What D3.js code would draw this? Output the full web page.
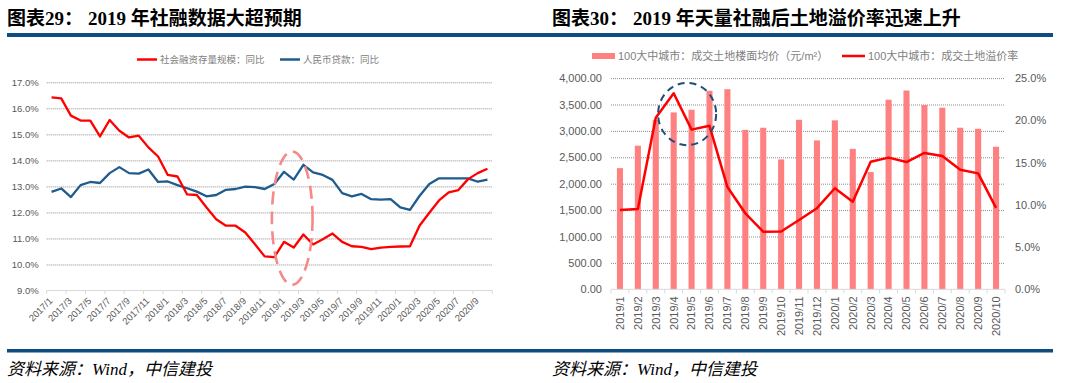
<!DOCTYPE html>
<html><head><meta charset="utf-8">
<script src="https://cdn.jsdelivr.net/npm/d3@7"></script>
<style>body{margin:0;background:#fff;} svg{display:block;}</style>
</head><body>
<svg id="c" width="1076" height="383"></svg>
<script>
// ---------- DATA ----------
const months1 = ["2017/1","2017/2","2017/3","2017/4","2017/5","2017/6","2017/7","2017/8","2017/9","2017/10","2017/11","2017/12",
  "2018/1","2018/2","2018/3","2018/4","2018/5","2018/6","2018/7","2018/8","2018/9","2018/10","2018/11","2018/12",
  "2019/1","2019/2","2019/3","2019/4","2019/5","2019/6","2019/7","2019/8","2019/9","2019/10","2019/11","2019/12",
  "2020/1","2020/2","2020/3","2020/4","2020/5","2020/6","2020/7","2020/8","2020/9","2020/10"];
const tsfYoY = [16.42,16.38,15.72,15.53,15.53,14.92,15.55,15.14,14.88,14.95,14.50,14.15,
  13.44,13.38,12.69,12.67,12.19,11.74,11.49,11.49,11.23,10.78,10.31,10.28,
  10.87,10.65,11.15,10.77,10.97,11.19,10.87,10.70,10.68,10.59,10.65,10.68,
  10.69,10.70,11.50,11.99,12.46,12.77,12.86,13.28,13.51,13.68];
const loanYoY = [12.79,12.92,12.59,13.05,13.17,13.13,13.51,13.74,13.51,13.49,13.65,13.17,
  13.19,13.05,12.93,12.80,12.62,12.67,12.87,12.90,12.99,12.97,12.90,13.09,
  13.56,13.26,13.83,13.54,13.44,13.25,12.74,12.62,12.71,12.51,12.49,12.51,
  12.19,12.10,12.64,13.09,13.31,13.31,13.31,13.31,13.18,13.26];
const leftTicks = [9,10,11,12,13,14,15,16,17];
const leftSeries = ["社会融资存量规模：同比","人民币贷款：同比"];

const months2 = ["2019/1","2019/2","2019/3","2019/4","2019/5","2019/6","2019/7","2019/8","2019/9","2019/10","2019/11","2019/12",
  "2020/1","2020/2","2020/3","2020/4","2020/5","2020/6","2020/7","2020/8","2020/9","2020/10"];
const landPrice = [2295,2720,3210,3350,3400,3760,3790,3020,3060,2460,3210,2820,
  3200,2660,2220,3590,3765,3490,3440,3060,3040,2700];
const premiumRate = [9.4,9.5,20.3,23.2,18.9,19.35,12.1,9.0,6.82,6.85,8.2,9.6,
  11.96,10.36,15.1,15.59,15.06,16.14,15.77,14.15,13.72,9.63];
const priceTicks = [0,500,1000,1500,2000,2500,3000,3500,4000];
const rateTicks = [0,5,10,15,20,25];
const rightSeries = ["100大中城市：成交土地楼面均价（元/m²）","100大中城市：成交土地溢价率"];

// ---------- STYLE ----------
const SANS = '"Liberation Sans", Arial, "Noto Sans CJK SC", sans-serif';
const TITLE = '"Liberation Serif", "Times New Roman", "Noto Sans CJK SC", serif';
const RED = "#ff0000", BLUE = "#1f5b8c", BAR = "#ff8080", RULE = "#0f4c81", TXT = "#595959";
const svg = d3.select("#c");

// ---------- HEADERS / FOOTERS ----------
svg.append("rect").attr("x",7).attr("y",33).attr("width",1046).attr("height",4).attr("fill",RULE);
svg.append("rect").attr("x",7).attr("y",349).attr("width",1046).attr("height",3.5).attr("fill",RULE);
function header(x, lab, x2, rest){
  svg.append("text").attr("x",x).attr("y",25).attr("font-family",TITLE).attr("font-weight","bold")
    .attr("font-size",19).attr("fill","#000").text(lab);
  svg.append("text").attr("x",x2).attr("y",25).attr("font-family",TITLE).attr("font-weight","bold")
    .attr("font-size",19).attr("fill","#000").text(rest);
  svg.append("text").attr("x",x).attr("y",375).attr("font-family",TITLE).attr("font-style","italic")
    .attr("font-size",17).attr("fill","#000").text("资料来源：Wind，中信建投");
}
header(7,"图表29：",88,"2019 年社融数据大超预期");
header(552,"图表30：",633,"2019 年天量社融后土地溢价率迅速上升");

// ---------- LEFT CHART ----------
(function(){
  const x0 = 46.7, x1 = 492.3;
  const x = d3.scaleBand().domain(months1).range([x0,x1]);
  const y = d3.scaleLinear().domain([9,17]).range([290.5,82.3]);
  const bw = x.bandwidth();
  const g = svg.append("g");

  // grid
  g.append("g").attr("transform",`translate(${x0},0)`)
    .call(d3.axisLeft(y).tickValues(leftTicks.filter(d=>d>9)).tickSize(-(x1-x0)).tickFormat(""))
    .call(a=>a.select(".domain").remove())
    .call(a=>a.selectAll("line").attr("stroke","#8c8c8c").attr("stroke-dasharray","1,1"));
  // y labels
  g.append("g").attr("transform",`translate(${x0},0)`)
    .call(d3.axisLeft(y).tickValues(leftTicks).tickSize(0).tickPadding(8).tickFormat(d=>d.toFixed(1)+"%"))
    .call(a=>a.select(".domain").remove())
    .call(a=>a.selectAll("text").attr("font-family",SANS).attr("font-size",9.5).attr("fill",TXT));
  // x axis line + boundary ticks
  g.append("line").attr("x1",x0).attr("x2",x1).attr("y1",y(9)).attr("y2",y(9)).attr("stroke","#d9d9d9");
  const bounds = months1.filter((d,i)=>i%2===0).map(d=>x(d)).concat([x1]);
  g.selectAll("line.tk").data(bounds).join("line").attr("class","tk")
    .attr("x1",d=>d).attr("x2",d=>d).attr("y1",y(9)).attr("y2",y(9)+3.5).attr("stroke","#d9d9d9");
  // x labels
  g.append("g").attr("transform",`translate(0,${y(9)})`)
    .call(d3.axisBottom(x).tickValues(months1.filter((d,i)=>i%2===0)).tickSize(0))
    .call(a=>a.select(".domain").remove())
    .call(a=>a.selectAll("text").attr("font-family",SANS).attr("font-size",9.5).attr("fill",TXT)
      .attr("text-anchor","end").attr("x",-1).attr("y",0).attr("dy","0.35em")
      .attr("transform","translate(0,8) rotate(-45)"));

  // lines
  const line = d3.line().x((d,i)=>x(months1[i])+bw/2).y(d=>y(d));
  g.append("path").datum(loanYoY).attr("d",line).attr("fill","none").attr("stroke",BLUE).attr("stroke-width",2.3).attr("stroke-linejoin","round");
  g.append("path").datum(tsfYoY).attr("d",line).attr("fill","none").attr("stroke",RED).attr("stroke-width",2.3).attr("stroke-linejoin","round");

  // annotation ellipse
  const ec = x("2019/2")+bw/2 - 1.5;
  g.append("ellipse").attr("cx",ec).attr("cy",y(11.78)).attr("rx",bw*2.1)
    .attr("ry",y(9.22)-y(11.78)).attr("fill","none").attr("stroke","#f48a8a").attr("stroke-width",2.6)
    .attr("stroke-dasharray","13,7");

  // legend
  const lg = g.append("g").attr("font-family",SANS).attr("font-size",9.5).attr("fill","#808080");
  [[137,RED],[280,BLUE]].forEach((p,i)=>{
    lg.append("line").attr("x1",p[0]).attr("x2",p[0]+20).attr("y1",59.5).attr("y2",59.5).attr("stroke",p[1]).attr("stroke-width",2.5);
    lg.append("text").attr("x",p[0]+23).attr("y",59.5).attr("dy","0.35em").text(leftSeries[i]);
  });
})();

// ---------- RIGHT CHART ----------
(function(){
  const x0 = 611, x1 = 1005;
  const x = d3.scaleBand().domain(months2).range([x0,x1]);
  const xb = d3.scaleBand().domain(months2).range([x0,x1]).paddingInner(0.66).paddingOuter(0.33);
  const yl = d3.scaleLinear().domain([0,4000]).range([289.3,78.1]);
  const yr = d3.scaleLinear().domain([0,25]).range([289.3,78.1]);
  const bw = x.bandwidth();
  const g = svg.append("g");

  g.append("g").attr("transform",`translate(${x0},0)`)
    .call(d3.axisLeft(yl).tickValues(priceTicks.filter(d=>d>0)).tickSize(-(x1-x0)).tickFormat(""))
    .call(a=>a.select(".domain").remove())
    .call(a=>a.selectAll("line").attr("stroke","#8c8c8c").attr("stroke-dasharray","1,1"));
  g.append("g").attr("transform",`translate(${x0},0)`)
    .call(d3.axisLeft(yl).tickValues(priceTicks).tickSize(0).tickPadding(9).tickFormat(d3.format(",.2f")))
    .call(a=>a.select(".domain").remove())
    .call(a=>a.selectAll("text").attr("font-family",SANS).attr("font-size",11).attr("fill",TXT));
  g.append("g").attr("transform",`translate(${x1},0)`)
    .call(d3.axisRight(yr).tickValues(rateTicks).tickSize(0).tickPadding(10).tickFormat(d=>d.toFixed(1)+"%"))
    .call(a=>a.select(".domain").remove())
    .call(a=>a.selectAll("text").attr("font-family",SANS).attr("font-size",11).attr("fill",TXT));

  // bars
  g.selectAll("rect.bar").data(landPrice).join("rect").attr("class","bar")
    .attr("x",(d,i)=>xb(months2[i])).attr("width",xb.bandwidth())
    .attr("y",d=>yl(d)).attr("height",d=>yl(0)-yl(d)).attr("fill",BAR);

  // x axis
  g.append("line").attr("x1",x0).attr("x2",x1).attr("y1",yl(0)).attr("y2",yl(0)).attr("stroke","#d9d9d9");
  const bounds = months2.map(d=>x(d)).concat([x1]);
  g.selectAll("line.tk").data(bounds).join("line").attr("class","tk")
    .attr("x1",d=>d).attr("x2",d=>d).attr("y1",yl(0)).attr("y2",yl(0)+4).attr("stroke","#d9d9d9");
  g.append("g").attr("transform",`translate(0,${yl(0)})`)
    .call(d3.axisBottom(x).tickSize(0))
    .call(a=>a.select(".domain").remove())
    .call(a=>a.selectAll("text").attr("font-family",SANS).attr("font-size",11).attr("fill",TXT)
      .attr("text-anchor","end").attr("x",0).attr("y",0).attr("dy","0.35em")
      .attr("transform","translate(0,7) rotate(-90)"));

  // line
  const line = d3.line().x((d,i)=>x(months2[i])+bw/2).y(d=>yr(d));
  g.append("path").datum(premiumRate).attr("d",line).attr("fill","none").attr("stroke",RED)
    .attr("stroke-width",2.5).attr("stroke-linejoin","round");

  // annotation circle
  g.append("ellipse").attr("cx",x("2019/5")+bw*0.25).attr("cy",yl(3320))
    .attr("rx",bw*1.62).attr("ry",yl(2730)-yl(3320)).attr("fill","none")
    .attr("stroke","#1f4e79").attr("stroke-width",2).attr("stroke-dasharray","7,5");

  // legend
  const lg = g.append("g").attr("font-family",SANS).attr("font-size",11).attr("fill","#808080");
  lg.append("rect").attr("x",592).attr("y",53).attr("width",23).attr("height",6).attr("fill",BAR);
  lg.append("text").attr("x",618).attr("y",56).attr("dy","0.35em").text(rightSeries[0]);
  lg.append("line").attr("x1",842).attr("x2",865).attr("y1",56).attr("y2",56).attr("stroke",RED).attr("stroke-width",2.5);
  lg.append("text").attr("x",868).attr("y",56).attr("dy","0.35em").text(rightSeries[1]);
})();
</script>
</body></html>
